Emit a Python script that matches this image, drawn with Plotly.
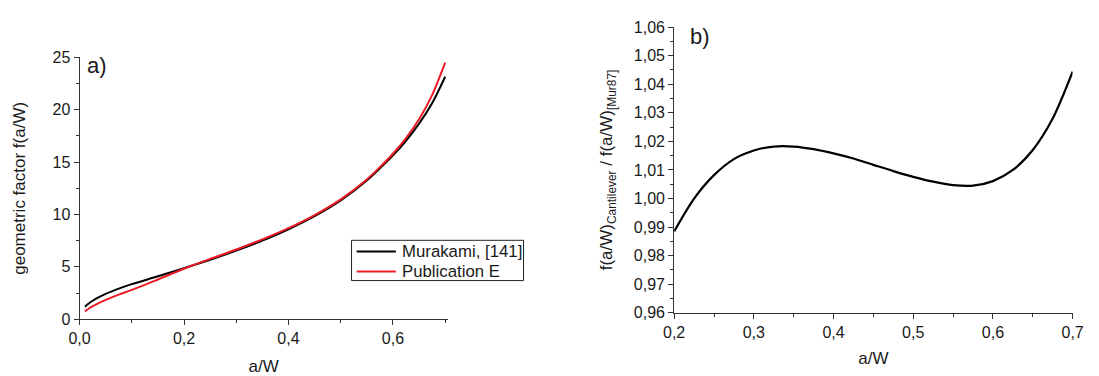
import plotly.graph_objects as go
from plotly.subplots import make_subplots

# a) geometric factor f(a/W) versus relative crack depth
aw_left = [0.01, 0.02, 0.03, 0.05, 0.075, 0.1, 0.15, 0.2, 0.25, 0.3, 0.35,
           0.4, 0.45, 0.5, 0.55, 0.575, 0.6, 0.625, 0.65, 0.675, 0.7]
f_murakami = [1.2, 1.6, 1.92, 2.42, 2.92, 3.35, 4.1, 4.88, 5.68, 6.55, 7.51,
              8.59, 9.84, 11.34, 13.24, 14.4, 15.64, 17.04, 18.67, 20.62, 23.15]
f_publication_e = [0.75, 1.1, 1.38, 1.85, 2.35, 2.8, 3.8, 4.82, 5.76, 6.66, 7.63,
                   8.7, 9.95, 11.45, 13.35, 14.52, 15.8, 17.3, 19.1, 21.4, 24.5]
series_names = ["Murakami, [141]", "Publication E"]
series_colors = ["black", "#ec1c24"]

# b) ratio of the cantilever factor to the Murakami factor
aw_right = [0.2, 0.225, 0.25, 0.275, 0.3, 0.325, 0.35, 0.375, 0.4, 0.425, 0.45,
            0.475, 0.5, 0.525, 0.55, 0.575, 0.6, 0.625, 0.65, 0.675, 0.7]
ratio = [0.9885, 1.0000, 1.0082, 1.0138, 1.0168, 1.0182, 1.0182, 1.0173, 1.0158,
         1.0140, 1.0118, 1.0096, 1.0076, 1.0059, 1.0047, 1.0045, 1.0061, 1.0100,
         1.0170, 1.0280, 1.0444]

W, H = 1099, 376
FONT = "Liberation Sans, Arial, sans-serif"
INK = "#1a1a1a"
AXC = "#333333"


def px(x):
    return x / W


def py(y):
    return (H - y) / H


fig = make_subplots(rows=1, cols=2)

for ys, name, color in zip([f_murakami, f_publication_e], series_names, series_colors):
    fig.add_trace(go.Scatter(x=aw_left, y=ys, mode="lines", name=name, showlegend=False,
                             line=dict(color=color, width=2, shape="spline", smoothing=0.8)),
                  row=1, col=1)
fig.add_trace(go.Scatter(x=aw_right, y=ratio, mode="lines", showlegend=False,
                         line=dict(color="black", width=2.2, shape="spline", smoothing=0.8)),
              row=1, col=2)

axis_common = dict(
    showline=True, linecolor=AXC, linewidth=1, showgrid=False, zeroline=False,
    ticks="outside", ticklen=5, tickwidth=1, tickcolor=AXC,
    tickfont=dict(family=FONT, size=16, color=INK),
    title_font=dict(family=FONT, size=17, color=INK),
)

fig.update_xaxes(axis_common, row=1, col=1, range=[0, 0.705], dtick=0.2, tick0=0,
                 tickformat=".1f", domain=[px(70), px(445.7)],
                 minor=dict(dtick=0.1, ticklen=3, tickcolor=AXC, ticks="outside"),
                 title_text="a/W", title_standoff=15)
fig.update_yaxes(axis_common, row=1, col=1, range=[0, 25], dtick=5, tick0=0,
                 domain=[py(326), py(51.7)],
                 minor=dict(dtick=2.5, ticklen=3, tickcolor=AXC, ticks="outside"),
                 title_text="geometric factor f(a/W)", title_standoff=22)

fig.update_xaxes(axis_common, row=1, col=2, range=[0.2, 0.7], dtick=0.1, tick0=0.2,
                 tickformat=".1f", domain=[px(676.7), px(1083.3)],
                 minor=dict(dtick=0.05, ticklen=3, tickcolor=AXC, ticks="outside"),
                 title_text="a/W", title_standoff=12)
fig.update_yaxes(axis_common, row=1, col=2, range=[0.96, 1.06], dtick=0.01, tick0=0.96,
                 tickformat=".2f", domain=[py(319.3), py(20)],
                 minor=dict(dtick=0.005, ticklen=3, tickcolor=AXC, ticks="outside"),
                 title_text="f(a/W)<sub>Cantilever</sub> / f(a/W)<sub>[Mur87]</sub>",
                 title_standoff=16)

# panel letters
fig.add_annotation(text="a)", xref="x", yref="y", x=0.01, y=24.2, xanchor="left",
                   yanchor="middle", showarrow=False,
                   font=dict(family=FONT, size=22, color=INK))
fig.add_annotation(text="b)", xref="x2", yref="y2", x=0.217, y=1.0567, xanchor="left",
                   yanchor="middle", showarrow=False,
                   font=dict(family=FONT, size=22, color=INK))

# framed legend for panel a)
fig.add_shape(type="rect", xref="paper", yref="paper",
              x0=px(347.5), x1=px(523), y0=py(285.5), y1=py(243.3),
              line=dict(color="#222222", width=1), fillcolor="white", layer="above")
for i, (name, color) in enumerate(zip(series_names, series_colors)):
    yc = 255 + 21 * i
    fig.add_shape(type="line", xref="paper", yref="paper",
                  x0=px(352.7), x1=px(392.7), y0=py(yc), y1=py(yc),
                  line=dict(color=color, width=2), layer="above")
    fig.add_annotation(text=name, xref="paper", yref="paper", x=px(397), y=py(yc),
                       xanchor="left", yanchor="middle", showarrow=False,
                       font=dict(family=FONT, size=16.8, color=INK))

fig.update_layout(
    width=W, height=H, margin=dict(l=0, r=0, t=0, b=0),
    plot_bgcolor="white", paper_bgcolor="white",
    separators=", ",
    font=dict(family=FONT, color=INK),
    showlegend=False,
)

fig.write_html("out.html")
